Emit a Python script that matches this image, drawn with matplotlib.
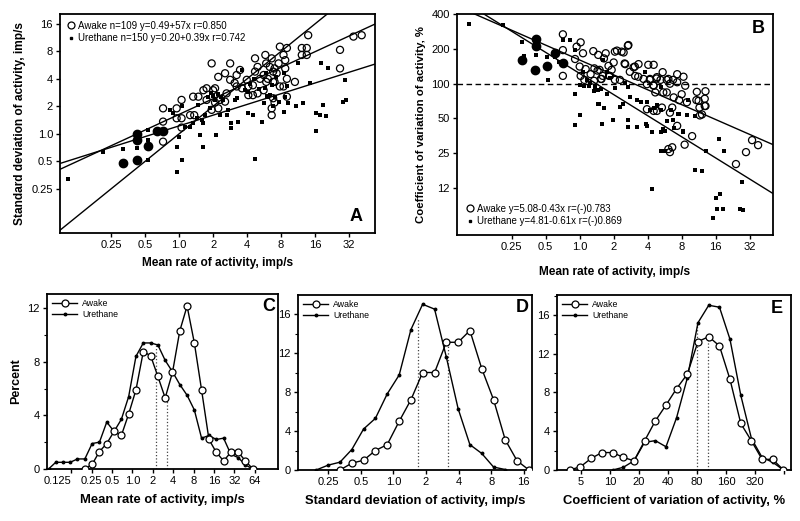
import numpy as np
import matplotlib
matplotlib.use('Agg')
import matplotlib.pyplot as plt
from matplotlib.ticker import NullLocator, MultipleLocator
from matplotlib.lines import Line2D

plt.rcParams['font.family'] = ['Liberation Sans', 'DejaVu Sans']

# ---------------- panel A: SD vs mean rate (x, y pairs)
a_awake = [(0.72, 1.9), (0.72, 1.36), (0.72, 0.82), (0.95, 1.9), (1.05, 2.35), (1.05, 1.48),
           (1.05, 1.17), (0.95, 1.48), (1.33, 2.55), (1.25, 1.6), (1.36, 1.6), (1.48, 2.55),
           (1.64, 3.0), (1.75, 3.15), (2.0, 3.0), (2.08, 3.15), (1.75, 2.35), (1.94, 1.83),
           (2.22, 1.9), (1.94, 5.9), (2.22, 4.2), (2.55, 4.6), (2.83, 5.9), (2.83, 3.9),
           (3.23, 4.4), (3.46, 5.0), (3.1, 3.6), (3.6, 3.15), (3.97, 3.9), (4.7, 6.7),
           (4.7, 4.8), (4.95, 5.4), (5.2, 4.0), (5.8, 7.3), (5.9, 5.9), (6.35, 5.4),
           (6.6, 6.7), (6.8, 4.8), (5.6, 4.4), (5.9, 3.7), (6.8, 3.7), (7.0, 5.2),
           (7.6, 5.9), (7.8, 9.0), (9.0, 8.7), (8.4, 7.3), (8.7, 6.4), (7.3, 4.6),
           (7.0, 3.7), (7.8, 3.3), (6.6, 1.9), (6.6, 1.6), (6.8, 2.45), (7.0, 2.2),
           (9.0, 2.55), (10.6, 3.7), (12.2, 8.7), (12.2, 7.3), (13.5, 7.3), (13.5, 8.7),
           (13.9, 12.0), (26.6, 5.2), (26.6, 8.3), (35.0, 11.6), (41.4, 12.0), (4.5, 2.65),
           (4.95, 2.77), (4.1, 2.65), (3.23, 3.3), (4.5, 3.4), (2.63, 2.77), (2.3, 2.35),
           (2.08, 2.2), (2.55, 2.25), (8.4, 3.3), (5.6, 3.0), (9.0, 4.0), (6.1, 4.0),
           (8.7, 5.2), (4.1, 3.3)]
a_awake_dark = [(0.32, 0.48), (0.42, 0.52), (0.53, 0.73), (0.42, 0.86), (0.42, 1.0),
                (0.63, 1.07), (0.72, 1.07)]
a_ureth = [(0.104, 0.32), (0.21, 0.64), (0.32, 0.68), (0.42, 0.7), (0.53, 0.86), (0.53, 1.1),
           (0.53, 0.52), (0.68, 1.1), (0.83, 1.83), (0.89, 1.7), (0.95, 0.72), (0.95, 0.38),
           (1.0, 0.93), (1.05, 0.52), (1.05, 2.0), (1.12, 1.2), (1.25, 1.2), (1.33, 1.3),
           (1.43, 1.48), (1.48, 2.05), (1.53, 0.97), (1.64, 1.3), (1.64, 0.72), (1.69, 1.6),
           (1.8, 2.55), (1.87, 1.9), (2.08, 2.35), (2.14, 0.97), (2.3, 1.6), (2.37, 2.55),
           (2.45, 2.35), (2.63, 1.6), (2.7, 1.83), (2.9, 1.15), (2.9, 1.3), (3.1, 2.35),
           (3.23, 2.45), (3.3, 1.36), (3.6, 5.0), (4.1, 1.7), (4.1, 2.85), (4.25, 3.55),
           (4.5, 1.6), (4.7, 0.53), (5.4, 1.36), (5.6, 2.2), (5.8, 3.15), (5.9, 4.6),
           (6.1, 2.55), (6.35, 2.65), (6.6, 3.4), (6.8, 2.0), (7.0, 2.55), (7.6, 2.25),
           (8.4, 4.6), (8.4, 1.75), (8.7, 2.55), (9.0, 3.3), (9.3, 2.2), (10.9, 2.0),
           (11.3, 5.9), (12.5, 2.2), (14.3, 3.6), (16.3, 1.7), (16.3, 1.07), (17.6, 1.6),
           (18.0, 5.9), (18.8, 2.05), (20.0, 1.55), (21.0, 5.2), (28.2, 2.25), (29.2, 3.9),
           (30.2, 2.35), (1.6, 1.4), (2.0, 2.6), (2.2, 2.7), (1.9, 2.8), (3.8, 3.0),
           (4.6, 4.0), (5.1, 3.1), (7.2, 4.2), (6.0, 2.6)]
a_fit_awake = (0.49, 0.57)    # ln(SD) = a + b ln(rate)
a_fit_ureth = (0.20, 0.39)

# ---------------- panel B: CV vs mean rate
b_awake = [(2.14, 194), (2.45, 187), (2.67, 214), (2.0, 153), (2.53, 148), (3.0, 139),
           (3.32, 148), (4.52, 146), (3.1, 117), (3.68, 110), (4.2, 110), (4.83, 114),
           (5.43, 126), (6.1, 110), (7.3, 121), (7.3, 103), (8.6, 96), (13.0, 86),
           (3.94, 99), (4.52, 96), (4.67, 84), (5.5, 84), (5.9, 84), (6.8, 76), (8.0, 81),
           (8.9, 69), (11.3, 71), (11.5, 62), (13.0, 64), (12.1, 54), (3.94, 60), (4.52, 58),
           (4.83, 58), (5.35, 62), (6.3, 56), (6.6, 62), (7.3, 43), (9.9, 35), (8.5, 29.5),
           (6.1, 27), (6.3, 25.4), (6.6, 28), (24.2, 20), (29.7, 25.4), (33.6, 32.3),
           (38.0, 29.2), (0.71, 269), (0.71, 196), (0.71, 117), (0.94, 210), (1.02, 229),
           (1.0, 141), (1.02, 117), (1.07, 184), (1.1, 108), (1.32, 192), (1.35, 136),
           (1.46, 178), (1.5, 132), (1.56, 110), (1.64, 166), (1.7, 184), (1.8, 143),
           (1.85, 117), (1.92, 132), (2.05, 190), (2.35, 190), (2.7, 217), (2.05, 108),
           (2.27, 108), (2.5, 150), (2.78, 127), (3.08, 141), (3.3, 115), (4.05, 146),
           (4.18, 108), (4.5, 97), (4.8, 111), (5.2, 108), (5.9, 108), (6.3, 100),
           (6.7, 108), (7.6, 72), (8.3, 115), (10.8, 72), (10.9, 85), (11.6, 53),
           (12.8, 74), (12.8, 64), (0.91, 164), (1.13, 134), (1.25, 121), (1.44, 130),
           (1.6, 117), (1.82, 117), (1.34, 106), (1.54, 110)]
b_awake_dark = [(0.31, 161), (0.41, 245), (0.41, 211), (0.40, 132), (0.51, 143),
                (0.61, 185), (0.71, 150)]
b_ureth = [(0.104, 329), (0.21, 324), (0.31, 229), (0.41, 178), (0.51, 172), (0.52, 108),
           (0.60, 178), (0.65, 155), (0.71, 240), (0.82, 240), (0.91, 196), (0.91, 82),
           (1.0, 53), (0.91, 44), (1.0, 97), (1.07, 127), (1.15, 108), (1.23, 101),
           (1.36, 94), (1.46, 88), (1.46, 67), (1.58, 45), (1.61, 161), (1.73, 127),
           (1.85, 111), (1.98, 48), (2.05, 91), (2.27, 63), (2.42, 67), (2.5, 101),
           (2.7, 93), (2.7, 48), (2.7, 42), (2.78, 77), (3.2, 72), (3.2, 42), (3.5, 70),
           (3.78, 127), (3.9, 45), (4.18, 59), (4.35, 38), (4.4, 12.2), (4.8, 65),
           (5.2, 94), (5.2, 59), (5.5, 40), (5.7, 26), (5.9, 47), (6.5, 59), (6.7, 48),
           (6.9, 41), (7.6, 55), (8.3, 38), (9.1, 72), (10.4, 52), (10.5, 17.8),
           (12.0, 17.3), (13.2, 26), (17.2, 33), (19.0, 26), (17.5, 11.0), (16.0, 10.1),
           (16.3, 8.1), (18.7, 8.1), (15.3, 6.8), (27.3, 13.9), (26.4, 8.1), (28.2, 8.0),
           (0.32, 173), (0.61, 170), (1.1, 96), (1.21, 96), (1.34, 87), (1.54, 90),
           (1.49, 67), (1.65, 62), (1.76, 81), (3.94, 43), (5.2, 38), (5.7, 39),
           (5.2, 26), (3.94, 70), (4.52, 62), (7.5, 55), (8.9, 53), (8.3, 39)]
b_fit_awake = (5.08, -0.43)   # ln(CV) = a + b ln(rate)
b_fit_ureth = (4.81, -0.61)

# ---------------- panel C: distribution of mean rate (%)
c_bins = [0.058, 0.074, 0.095, 0.121, 0.155, 0.199, 0.255, 0.327, 0.419, 0.537, 0.688,
          0.882, 1.13, 1.45, 1.86, 2.38, 3.05, 3.91, 5.01, 6.42, 8.22, 10.5, 13.5, 17.3,
          22.2, 28.4, 36.5, 46.7, 59.9]
c_ureth = [0, 0.5, 0.5, 0.5, 0.75, 0.75, 1.9, 2.0, 3.5, 2.8, 3.7, 5.4, 8.4, 9.4, 9.4,
           9.25, 8.1, 7.25, 6.3, 5.5, 4.4, 2.3, 2.5, 2.2, 2.3, 1.1, 0.85, 0.3, 0]
c_awake = [0, 0.35, 1.3, 1.9, 2.8, 2.5, 4.1, 5.9, 8.75, 8.45, 6.9, 5.3, 7.2, 10.3, 12.15,
           9.4, 5.9, 2.2, 1.25, 0.6, 1.25, 1.25, 0.6, 0]          # from c_bins[5]
c_medians = {'Urethane': (2.24, 9.3), 'Awake': (3.22, 5.6)}

# ---------------- panel D: distribution of SD
d_bins = [0.193, 0.249, 0.320, 0.412, 0.529, 0.681, 0.875, 1.13, 1.45, 1.86, 2.40, 3.08,
          3.96, 5.09, 6.55, 8.43, 10.8, 13.9, 17.9]
d_ureth = [0, 0.5, 0.8, 2.1, 4.2, 5.3, 7.8, 9.75, 14.4, 17.0, 16.5, 11.6, 6.3, 2.6, 1.7,
           0.3, 0.05]                                             # d_bins[0:17]
d_awake = [0, 0.7, 1.0, 2.0, 2.6, 5.0, 7.2, 10.0, 10.0, 13.1, 13.1, 14.3, 10.4, 7.2, 3.1,
           0.95, 0]                                               # d_bins[2:]
d_medians = {'Urethane': (1.70, 15.5), 'Awake': (3.2, 13.1)}

# ---------------- panel E: distribution of CV
e_bins = [3.84, 4.96, 6.40, 8.26, 10.7, 13.8, 17.8, 22.9, 29.6, 38.2, 49.2, 63.6, 82.0,
          106, 137, 176, 228, 294, 379, 489, 631]
e_awake = [0, 0.34, 1.2, 1.8, 1.8, 1.3, 0.95, 3.0, 5.06, 6.7, 8.4, 9.9, 13.25, 13.76,
           12.8, 9.36, 4.8, 3.0, 1.1, 1.1, 0]
e_ureth = [0, 0.28, 0.95, 2.85, 3.03, 2.4, 5.4, 9.5, 15.2, 17.0, 16.8, 13.5, 7.7, 3.25,
           1.3, 0.8, 0]                                           # e_bins[4:]
e_medians = {'Urethane': (79.4, 15.0), 'Awake': (103, 13.7)}


W, H = 800, 521
fig = plt.figure(figsize=(8.0, 5.21), dpi=100)


def px_axes(left, top, right, bottom):
    return fig.add_axes([left / W, 1 - bottom / H, (right - left) / W, (bottom - top) / H])


def style(ax):
    for sp in ax.spines.values():
        sp.set_linewidth(1.3)
    ax.tick_params(direction='out', length=3, width=1, labelsize=8, pad=2)
    ax.tick_params(which='minor', direction='out', length=2, width=0.8)


def xy(pairs):
    return [p[0] for p in pairs], [p[1] for p in pairs]


def scatter_panel(ax, awake, dark, ureth):
    x, y = xy(awake)
    ax.scatter(x, y, s=26, facecolors='none', edgecolors='black', linewidths=0.9, zorder=3)
    x, y = xy(dark)
    ax.scatter(x, y, s=36, color='black', zorder=3)
    x, y = xy(ureth)
    ax.scatter(x, y, s=5, marker='s', color='black', linewidths=0, zorder=3)


def fit_line(ax, fit, xlim):
    xs = np.geomspace(xlim[0], xlim[1], 60)
    ax.plot(xs, np.exp(fit[0]) * xs ** fit[1], color='black', lw=1.0, zorder=2)


rate_ticks = [0.25, 0.5, 1, 2, 4, 8, 16, 32]
rate_labels = ['0.25', '0.5', '1.0', '2', '4', '8', '16', '32']

# ---- A
axA = px_axes(60, 14, 375, 233)
style(axA)
xlimA, ylimA = (0.088, 54.3), (0.082, 20.5)
axA.set_xscale('log', base=2)
axA.set_yscale('log', base=2)
scatter_panel(axA, a_awake, a_awake_dark, a_ureth)
fit_line(axA, a_fit_awake, xlimA)
fit_line(axA, a_fit_ureth, xlimA)
axA.plot(xlimA, xlimA, color='black', lw=1.0, zorder=2)   # SD = mean (CV 100%)
axA.set_xlim(*xlimA)
axA.set_ylim(*ylimA)
axA.set_xticks(rate_ticks, rate_labels)
axA.set_yticks([0.25, 0.5, 1, 2, 4, 8, 16], ['0.25', '0.5', '1.0', '2', '4', '8', '16'])
axA.xaxis.set_minor_locator(NullLocator())
axA.yaxis.set_minor_locator(NullLocator())
axA.set_xlabel('Mean rate of activity, imp/s', fontsize=8.6, fontweight='bold', labelpad=5)
axA.set_ylabel('Standard deviation of activity, imp/s', fontsize=8.6, fontweight='bold',
               labelpad=4)
axA.text(0.94, 0.075, 'A', transform=axA.transAxes, fontsize=13, fontweight='bold',
         ha='center', va='center')
hA = [Line2D([], [], ls='none', marker='o', mfc='none', mec='black', ms=5, mew=0.9),
      Line2D([], [], ls='none', marker='s', color='black', ms=2)]
axA.legend(hA, ['Awake n=109 y=0.49+57x r=0.850', 'Urethane n=150 y=0.20+0.39x r=0.742'],
           loc='upper left', frameon=False, fontsize=7, handlelength=0.8,
           handletextpad=0.4, labelspacing=0.25, borderaxespad=0.2, borderpad=0.5)

# ---- B
axB = px_axes(457, 14, 773, 235)
style(axB)
xlimB, ylimB = (0.082, 51.5), (4.83, 404)
axB.set_xscale('log', base=2)
axB.set_yscale('log', base=2)
scatter_panel(axB, b_awake, b_awake_dark, b_ureth)
fit_line(axB, b_fit_awake, xlimB)
fit_line(axB, b_fit_ureth, xlimB)
axB.axhline(100, color='black', lw=1.0, ls=(0, (4, 2.5)), zorder=2)
axB.set_xlim(*xlimB)
axB.set_ylim(*ylimB)
axB.set_xticks(rate_ticks, rate_labels)
axB.set_yticks([12.5, 25, 50, 100, 200, 400], ['12', '25', '50', '100', '200', '400'])
axB.xaxis.set_minor_locator(NullLocator())
axB.yaxis.set_minor_locator(NullLocator())
axB.set_xlabel('Mean rate of activity, imp/s', fontsize=8.6, fontweight='bold', labelpad=10)
axB.set_ylabel('Coefficient of variation of activity, %', fontsize=8.2, fontweight='bold',
               labelpad=4)
axB.text(0.954, 0.935, 'B', transform=axB.transAxes, fontsize=13, fontweight='bold',
         ha='center', va='center')
axB.legend(hA, ['Awake y=5.08-0.43x r=(-)0.783', 'Urethane y=4.81-0.61x r=(-)0.869'],
           loc='lower left', frameon=False, fontsize=7, handlelength=0.8,
           handletextpad=0.4, labelspacing=0.25, borderaxespad=0.5, borderpad=0.4)


# ---- histograms
def hist_panel(ax, bins, awake, awake_start, ureth, ureth_start, medians, xlim, ylim,
               xt, xtl, letter, lpos, xlabel):
    style(ax)
    ax.set_xscale('log', base=2)
    ax.plot(bins[awake_start:awake_start + len(awake)], awake, color='black', lw=1.0,
            marker='o', ms=5, mfc='white', mec='black', mew=0.9, zorder=3, label='Awake')
    ax.plot(bins[ureth_start:ureth_start + len(ureth)], ureth, color='black', lw=1.0,
            marker='o', ms=1.8, zorder=2, label='Urethane')
    for name, (m, h) in medians.items():
        ax.plot([m, m], [0, h], color='#444444', lw=0.9, ls=':', zorder=1)
    ax.set_xlim(*xlim)
    ax.set_ylim(*ylim)
    ax.set_xticks(xt, xtl)
    ax.xaxis.set_minor_locator(NullLocator())
    ax.yaxis.set_major_locator(MultipleLocator(4))
    ax.yaxis.set_minor_locator(MultipleLocator(2))
    ax.set_xlabel(xlabel, fontsize=9.4, fontweight='bold', labelpad=6)
    ax.text(lpos[0], lpos[1], letter, transform=ax.transAxes, fontsize=13,
            fontweight='bold', ha='center', va='center')
    ax.legend(loc='upper left', frameon=False, fontsize=6.3, handlelength=2.8,
              handletextpad=0.6, labelspacing=0.25, borderaxespad=0.3, borderpad=0.3)


axC = px_axes(47, 294, 278, 469)
hist_panel(axC, c_bins, c_awake, 5, c_ureth, 0, c_medians, (0.055, 141), (0, 13.05),
           [0.125, 0.25, 0.5, 1, 2, 4, 8, 16, 32, 64],
           ['0.125', '0.25', '0.5', '1.0', '2', '4', '8', '16', '32', '64'],
           'C', (0.958, 0.927), 'Mean rate of activity, imp/s')
axC.get_xticklabels()[0].set_horizontalalignment('right')
axC.set_ylabel('Percent', fontsize=9, fontweight='bold', labelpad=4)

axD = px_axes(298, 295, 532, 470)
hist_panel(axD, d_bins, d_awake, 2, d_ureth, 0, d_medians, (0.131, 19.1), (0, 17.95),
           [0.25, 0.5, 1, 2, 4, 8, 16], ['0.25', '0.5', '1.0', '2', '4', '8', '16'],
           'D', (0.96, 0.93), 'Standard deviation of activity, imp/s')

axE = px_axes(557, 295, 791, 470)
hist_panel(axE, e_bins, e_awake, 0, e_ureth, 4, e_medians, (2.83, 756), (0, 18.06),
           [5, 10, 20, 40, 80, 160, 320, 640], ['5', '10', '20', '40', '80', '160', '320', ''],
           'E', (0.94, 0.924), 'Coefficient of variation of activity, %')

fig.savefig('out.png', dpi=100)
